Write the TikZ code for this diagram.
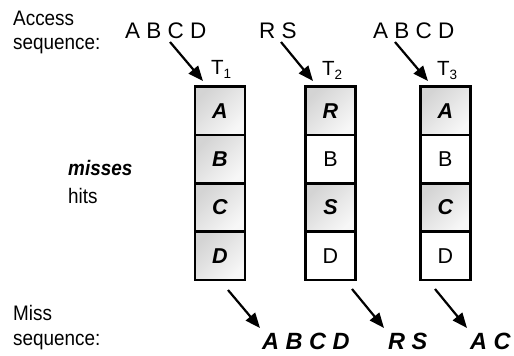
\documentclass[tikz,border=0pt]{standalone}
\usepackage{fontspec}
\setmainfont{Liberation Sans}
\newfontfamily\condfont{Liberation Sans}[FakeStretch=0.9]
\usetikzlibrary{arrows.meta}
\begin{document}
\begin{tikzpicture}[x=1pt,y=-1pt,
  lbl/.style={inner sep=0pt, anchor=base west, font=\condfont\fontsize{21}{25}\selectfont},
  seqlbl/.style={lbl, font=\fontsize{22.5}{26}\selectfont},
  misslbl/.style={lbl, font=\fontsize{23.5}{27}\selectfont\bfseries\itshape},
  cell/.style={draw, line width=2.5pt, minimum width=50pt, minimum height=48.4pt, inner sep=0pt, font=\fontsize{21.5}{25}\selectfont},
  misscell/.style={cell, font=\fontsize{21.5}{25}\selectfont\bfseries\itshape,
     top color=black!17, middle color=black!15, bottom color=black!3, shading angle=45},
  hitcell/.style={cell, fill=white},
  arr/.style={line width=2.2pt, -{Triangle[length=15pt,width=12pt]}},
  tlbl/.style={lbl, font=\fontsize{20.5}{24}\selectfont}
]
\useasboundingbox (0,0) rectangle (514,356);

% left labels
\node[lbl] (acc) at (13,25) {Access};
\node[lbl] (accseq) at (13,49) {sequence:};
\node[lbl, font=\condfont\fontsize{21}{25}\selectfont\bfseries\itshape] (missesl) at (68,175) {misses};
\node[lbl] (hitsl) at (68,203) {hits};
\node[lbl] (missl) at (13,320) {Miss};
\node[lbl] (missseq) at (13,345) {sequence:};

% access sequences
\node[seqlbl] (s1) at (125,38) {A B C D};
\node[seqlbl] (s2) at (259,38) {R S};
\node[seqlbl] (s3) at (373,38) {A B C D};

% table labels
\node[tlbl] (t1) at (211,74) {T\raisebox{-4.5pt}{\fontsize{13.5}{14}\selectfont 1}};
\node[tlbl] (t2) at (322,75) {T\raisebox{-4.5pt}{\fontsize{13.5}{14}\selectfont 2}};
\node[tlbl] (t3) at (437,75) {T\raisebox{-4.5pt}{\fontsize{13.5}{14}\selectfont 3}};

% T1 cells
\node[misscell] (c1a) at (220,110.7) {A};
\node[misscell] (c1b) at (220,159.1) {B};
\node[misscell] (c1c) at (220,207.5) {C};
\node[misscell] (c1d) at (220,255.9) {D};
% T2 cells
\node[misscell] (c2a) at (330.5,110.7) {R};
\node[hitcell]  (c2b) at (330.5,159.1) {B};
\node[misscell] (c2c) at (330.5,207.5) {S};
\node[hitcell]  (c2d) at (330.5,255.9) {D};
% T3 cells
\node[misscell] (c3a) at (445.3,110.7) {A};
\node[hitcell]  (c3b) at (445.3,159.1) {B};
\node[misscell] (c3c) at (445.3,207.5) {C};
\node[hitcell]  (c3d) at (445.3,255.9) {D};

% miss sequences
\node[misslbl] (m1) at (262,349) {A B C D};
\node[misslbl] (m2) at (388,349) {R S};
\node[misslbl] (m3) at (470,349) {A C};

% arrow end points
\coordinate (a1s) at (170,42);  \coordinate (a1e) at (203,81);
\coordinate (a2s) at (281,42);  \coordinate (a2e) at (313,81);
\coordinate (a3s) at (395,42);  \coordinate (a3e) at (428,81);
\coordinate (b1s) at (228,290); \coordinate (b1e) at (260,328);
\coordinate (b2s) at (352,289); \coordinate (b2e) at (384,328);
\coordinate (b3s) at (435,289); \coordinate (b3e) at (467,328);

\draw[arr] (a1s) -- (a1e);
\draw[arr] (a2s) -- (a2e);
\draw[arr] (a3s) -- (a3e);
\draw[arr] (b1s) -- (b1e);
\draw[arr] (b2s) -- (b2e);
\draw[arr] (b3s) -- (b3e);
\end{tikzpicture}
\end{document}
